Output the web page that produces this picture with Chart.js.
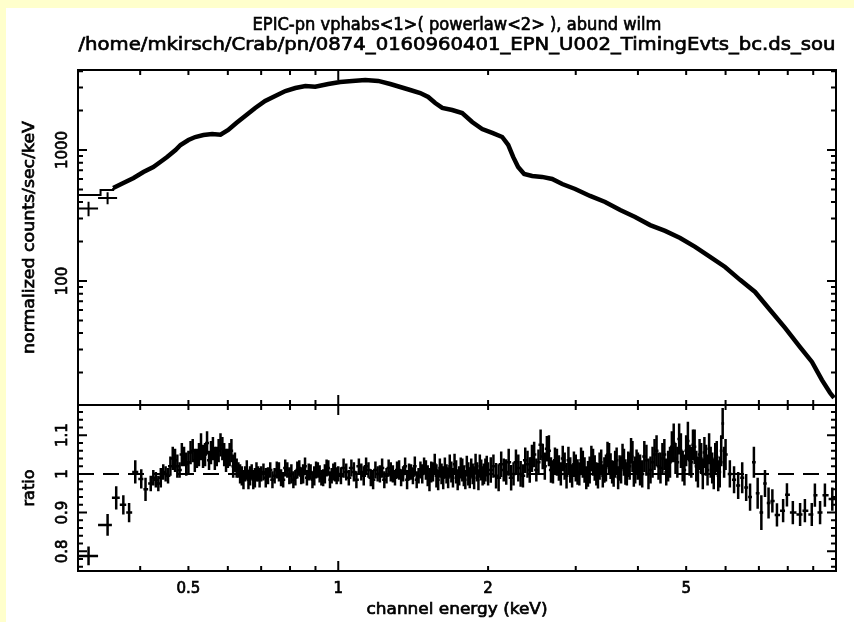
<!DOCTYPE html>
<html>
<head>
<meta charset="utf-8">
<script src="https://cdn.jsdelivr.net/npm/chart.js@4.4.0/dist/chart.umd.min.js"></script>
<style>
  body { margin: 0; background: #ffffcc; }
  #wrap { position: relative; width: 854px; height: 622px; overflow: hidden; }
  #paper { position: absolute; left: 6px; top: 8px; right: 0; bottom: 0; background: #fff; }
  canvas { position: absolute; left: 0; top: 0; }
</style>
</head>
<body>
<div id="wrap">
  <div id="paper"></div>
  <canvas id="countsChart" width="854" height="622"></canvas>
  <canvas id="ratioChart" width="854" height="622"></canvas>
</div>
<script>
const titleLines = ['EPIC-pn vphabs<1>( powerlaw<2> ), abund wilm',
                    '/home/mkirsch/Crab/pn/0874_0160960401_EPN_U002_TimingEvts_bc.ds_sou'];
const xAxisTitle = 'channel energy (keV)';
const countsAxisTitle = 'normalized counts/sec/keV';
const ratioAxisTitle = 'ratio';
const energyTickLabels = [0.5, 1, 2, 5];
const countsTickLabels = [100, 1000];
const ratioTickLabels = [0.8, 0.9, 1, 1.1];

// upper panel: folded spectrum (keV, counts/s/keV)
const specEnergy = [0.353, 0.370, 0.388, 0.406, 0.425, 0.439, 0.453, 0.471, 0.482, 0.500,
  0.516, 0.536, 0.558, 0.580, 0.601, 0.624, 0.650, 0.681, 0.713, 0.747,
  0.783, 0.820, 0.859, 0.899, 0.955, 1.009, 1.067, 1.133, 1.203, 1.272,
  1.332, 1.395, 1.461, 1.516, 1.566, 1.618, 1.694, 1.774, 1.858, 1.946,
  2.039, 2.135, 2.195, 2.246, 2.298, 2.363, 2.453, 2.568, 2.690, 2.818,
  2.992, 3.206, 3.437, 3.685, 3.948, 4.232, 4.536, 4.862, 5.212, 5.585,
  5.986, 6.416, 6.877, 7.372, 7.901, 8.468, 8.948, 9.374, 9.727, 9.91];
const specCounts = [513, 560, 611, 679, 741, 810, 885, 1000, 1092, 1192,
  1256, 1302, 1325, 1310, 1421, 1607, 1818, 2094, 2367, 2585,
  2820, 2972, 3082, 3040, 3190, 3305, 3366, 3424, 3366, 3190,
  3027, 2870, 2723, 2539, 2285, 2094, 2018, 1914, 1636, 1446,
  1349, 1256, 1092, 885, 741, 656, 634, 623, 601, 550,
  504, 446, 401, 348, 308, 267, 241, 213, 182, 153,
  128, 102, 82.4, 60.1, 43.8, 31.3, 24.1, 17.5, 14.0, 12.8];
// first channels drawn as crosses, and the model histogram under them
const lowEnergy = [0.315, 0.344];
const lowCounts = [357, 430];
const lowCountsErr = [45, 45];
const modelEnergy = [0.30, 0.333, 0.353];
const modelCounts = [453, 495, 513];

// lower panel: data / model
const ratioEnergy = [0.315, 0.344, 0.358, 0.370, 0.380, 0.391, 0.402, 0.410,
  0.42, 0.43, 0.44, 0.45, 0.46, 0.47, 0.48, 0.49, 0.50, 0.51, 0.52, 0.53, 0.54, 0.55,
  0.56, 0.57, 0.58, 0.59, 0.60, 0.61, 0.62, 0.63, 0.64, 0.65, 0.66, 0.67, 0.68, 0.69,
  0.70, 0.715, 0.73, 0.745, 0.76, 0.775, 0.79, 0.805, 0.82, 0.835, 0.85, 0.865, 0.88,
  0.895, 0.91, 0.925, 0.94, 0.955, 0.97, 0.985,
  1.0, 1.025, 1.05, 1.075, 1.1, 1.125, 1.15, 1.175, 1.2, 1.225, 1.25, 1.275, 1.3, 1.325,
  1.35, 1.375, 1.4, 1.425, 1.45, 1.475, 1.5, 1.525, 1.55, 1.575, 1.6, 1.625, 1.65, 1.675,
  1.7, 1.725, 1.75, 1.775, 1.8, 1.825, 1.85, 1.875, 1.9, 1.925, 1.95, 1.975,
  2.0, 2.05, 2.1, 2.15, 2.2, 2.25, 2.3, 2.35, 2.4, 2.45, 2.5, 2.55, 2.6, 2.65, 2.7, 2.75,
  2.8, 2.85, 2.9, 2.95, 3.0, 3.05, 3.1, 3.15, 3.2, 3.25, 3.3, 3.35, 3.4, 3.45, 3.5, 3.55,
  3.6, 3.65, 3.7, 3.75, 3.8, 3.85, 3.9, 3.95,
  4.0, 4.08, 4.16, 4.24, 4.32, 4.4, 4.48, 4.56, 4.64, 4.72, 4.8, 4.88, 4.96, 5.04, 5.12,
  5.2, 5.28, 5.36, 5.44, 5.52, 5.6, 5.68, 5.76, 5.84, 5.92,
  6.0, 6.12, 6.24, 6.36, 6.48, 6.6, 6.72, 6.84, 6.96, 7.08, 7.2, 7.32,
  7.45, 7.61, 7.83, 7.97, 8.19, 8.47, 8.66, 8.94, 9.07, 9.29, 9.50, 9.83];
const ratioValue = [0.788, 0.868, 0.938, 0.92, 0.90, 1.005, 0.987, 0.96,
  0.975, 0.985, 0.99, 1.0, 1.02, 1.035, 1.01, 1.045, 1.03, 1.06, 1.04, 1.07, 1.05, 1.035,
  1.065, 1.045, 1.075, 1.05, 1.04, 1.06, 1.03, 1.01, 0.995, 1.0, 0.985, 1.005, 0.99, 1.0,
  1.0, 0.99, 1.01, 0.995, 1.005, 0.985, 1.01, 1.0, 0.99, 1.015, 1.0, 0.99, 1.005,
  0.995, 1.01, 0.99, 1.0, 1.015, 0.995, 1.005,
  1.0, 1.015, 0.99, 1.005, 1.02, 0.995, 1.01, 0.985, 1.0, 1.015, 0.995, 1.005, 0.99, 1.01,
  1.0, 0.985, 1.005, 1.02, 0.995, 1.0, 1.01, 0.985, 1.005, 0.995, 1.015, 0.99, 1.0, 1.02,
  0.99, 1.005, 0.995, 1.01, 0.985, 1.0, 1.015, 0.99, 1.005, 1.02, 0.995, 1.01,
  1.0, 1.02, 0.99, 1.01, 1.03, 1.0, 1.015, 0.995, 1.025, 1.04, 1.01, 1.075, 1.02, 1.06, 1.005, 1.03,
  1.0, 1.02, 1.035, 0.995, 1.015, 1.0, 1.025, 0.99, 1.01, 1.03, 1.0, 1.02, 0.995, 1.015, 1.04, 1.005,
  1.025, 0.99, 1.01, 1.03, 1.0, 1.02, 1.045, 1.01,
  1.02, 1.0, 1.035, 1.01, 1.05, 1.02, 1.04, 1.005, 1.03, 1.08, 1.03, 1.06, 1.01, 1.085, 1.03,
  1.07, 1.005, 1.04, 1.055, 1.01, 1.03, 1.0, 1.045, 1.005, 1.13,
  1.05, 1.0, 0.985, 0.97, 0.99, 0.965, 0.94, 1.03, 0.95, 0.90, 0.975, 0.925,
  0.93, 0.894, 0.905, 0.946, 0.90, 0.895, 0.905, 0.895, 0.945, 0.90, 0.945, 0.935];
const ratioErr = [0.024, 0.028, 0.03, 0.025, 0.025, 0.03, 0.025, 0.03,
  0.02, 0.02, 0.025, 0.02, 0.025, 0.03, 0.02, 0.025, 0.03, 0.03, 0.025, 0.035, 0.03, 0.025,
  0.03, 0.025, 0.03, 0.03, 0.025, 0.03, 0.025, 0.02, 0.025, 0.02, 0.025, 0.02, 0.025, 0.02,
  0.02, 0.025, 0.02, 0.02, 0.025, 0.02, 0.02, 0.025, 0.02, 0.02, 0.025, 0.02, 0.02,
  0.025, 0.02, 0.02, 0.025, 0.02, 0.02, 0.025,
  0.02, 0.025, 0.02, 0.025, 0.02, 0.025, 0.02, 0.025, 0.02, 0.025, 0.02, 0.025, 0.02, 0.025,
  0.02, 0.025, 0.02, 0.025, 0.02, 0.025, 0.025, 0.03, 0.025, 0.03, 0.025, 0.03, 0.025, 0.03,
  0.025, 0.03, 0.025, 0.03, 0.025, 0.03, 0.025, 0.03, 0.025, 0.03, 0.025, 0.03,
  0.03, 0.03, 0.035, 0.03, 0.035, 0.03, 0.035, 0.03, 0.035, 0.035, 0.03, 0.04, 0.035, 0.04, 0.03, 0.035,
  0.03, 0.035, 0.035, 0.03, 0.035, 0.03, 0.035, 0.03, 0.035, 0.035, 0.03, 0.035, 0.03, 0.035, 0.04, 0.03,
  0.035, 0.03, 0.035, 0.035, 0.03, 0.035, 0.04, 0.035,
  0.035, 0.035, 0.04, 0.035, 0.04, 0.035, 0.04, 0.035, 0.04, 0.05, 0.04, 0.045, 0.04, 0.05, 0.04,
  0.045, 0.04, 0.04, 0.04, 0.04, 0.04, 0.04, 0.04, 0.04, 0.04,
  0.04, 0.035, 0.035, 0.035, 0.04, 0.035, 0.035, 0.04, 0.04, 0.045, 0.035, 0.04,
  0.03, 0.03, 0.03, 0.03, 0.03, 0.03, 0.03, 0.03, 0.03, 0.03, 0.03, 0.03];
// channels lying between the ones above (the band is very dense)
const ratioEnergyFine = [0.425, 0.435, 0.445, 0.455, 0.465, 0.475, 0.485, 0.495, 0.505, 0.515,
  0.525, 0.535, 0.545, 0.555, 0.565, 0.575, 0.585, 0.595, 0.605, 0.615,
  0.625, 0.635, 0.645, 0.655, 0.665, 0.675, 0.685, 0.695,
  0.7075, 0.7225, 0.7375, 0.7525, 0.7675, 0.7825, 0.7975, 0.8125, 0.8275, 0.8425,
  0.8575, 0.8725, 0.8875, 0.9025, 0.9175, 0.9325, 0.9475, 0.9625, 0.9775, 0.9925,
  1.0125, 1.0375, 1.0625, 1.0875, 1.1125, 1.1375, 1.1625, 1.1875, 1.2125, 1.2375,
  1.2625, 1.2875, 1.3125, 1.3375, 1.3625, 1.3875, 1.4125, 1.4375, 1.4625, 1.4875,
  1.5125, 1.5375, 1.5625, 1.5875, 1.6125, 1.6375, 1.6625, 1.6875, 1.7125, 1.7375,
  1.7625, 1.7875, 1.8125, 1.8375, 1.8625, 1.8875, 1.9125, 1.9375, 1.9625, 1.9875,
  2.025, 2.075, 2.125, 2.175, 2.225, 2.275, 2.325, 2.375, 2.425, 2.475,
  2.525, 2.575, 2.625, 2.675, 2.725, 2.775, 2.825, 2.875, 2.925, 2.975,
  3.025, 3.075, 3.125, 3.175, 3.225, 3.275, 3.325, 3.375, 3.425, 3.475,
  3.525, 3.575, 3.625, 3.675, 3.725, 3.775, 3.825, 3.875, 3.925, 3.975,
  4.04, 4.12, 4.2, 4.28, 4.36, 4.44, 4.52, 4.6, 4.68, 4.76, 4.84, 4.92, 5.0,
  5.08, 5.16, 5.24, 5.32, 5.4, 5.48, 5.56, 5.64, 5.72, 5.8, 5.88, 5.96];
const ratioValueFine = [0.99, 0.975, 1.005, 0.995, 1.04, 1.02, 1.05, 1.025, 1.055, 1.035,
  1.05, 1.045, 1.08, 1.055, 1.04, 1.06, 1.065, 1.035, 1.05, 1.02,
  1.015, 1.0, 0.985, 1.01, 0.995, 0.985, 1.005, 0.99,
  1.005, 0.995, 0.985, 1.01, 0.99, 1.015, 0.995, 0.985, 1.01, 0.995,
  1.02, 1.005, 0.985, 1.01, 1.0, 0.99, 1.015, 0.985, 1.005, 0.995,
  0.995, 1.005, 1.015, 0.985, 1.005, 1.02, 0.99, 1.01, 1.0, 0.985,
  1.015, 1.0, 1.01, 0.99, 1.02, 1.005, 0.995, 0.985, 1.01, 1.02,
  0.995, 1.005, 1.025, 0.985, 1.0, 1.015, 0.99, 1.005, 1.025, 0.985,
  1.015, 0.995, 1.02, 0.99, 1.0, 1.025, 0.985, 1.01, 1.0, 1.02,
  1.01, 0.995, 1.025, 1.005, 0.99, 1.03, 1.0, 1.035, 1.01, 1.05,
  1.03, 1.045, 1.065, 1.01, 1.035, 1.015, 1.04, 0.995, 1.01, 1.025,
  1.005, 1.035, 1.01, 1.0, 1.04, 1.015, 0.995, 1.03, 1.01, 1.05,
  1.02, 1.0, 1.035, 1.015, 1.045, 1.005, 1.025, 1.06, 1.0, 1.03,
  1.01, 1.045, 1.0, 1.03, 1.06, 1.015, 1.05, 1.02, 1.07, 1.04, 1.09, 1.02, 1.06,
  1.035, 1.075, 1.02, 1.05, 1.0, 1.035, 1.065, 1.015, 1.04, 0.995, 1.06, 1.03];
const ratioErrFine = [0.02, 0.02, 0.02, 0.02, 0.03, 0.03, 0.03, 0.03, 0.03, 0.03,
  0.03, 0.03, 0.03, 0.03, 0.03, 0.03, 0.03, 0.03, 0.03, 0.03,
  0.025, 0.025, 0.025, 0.025, 0.025, 0.025, 0.025, 0.025,
  0.022, 0.022, 0.022, 0.022, 0.022, 0.022, 0.022, 0.022, 0.022, 0.022,
  0.022, 0.022, 0.022, 0.022, 0.022, 0.022, 0.022, 0.022, 0.022, 0.022,
  0.022, 0.022, 0.022, 0.022, 0.022, 0.022, 0.022, 0.022, 0.022, 0.022,
  0.022, 0.022, 0.022, 0.022, 0.022, 0.022, 0.022, 0.022, 0.022, 0.022,
  0.027, 0.027, 0.027, 0.027, 0.027, 0.027, 0.027, 0.027, 0.027, 0.027,
  0.027, 0.027, 0.027, 0.027, 0.027, 0.027, 0.027, 0.027, 0.027, 0.027,
  0.033, 0.033, 0.033, 0.033, 0.033, 0.033, 0.033, 0.033, 0.033, 0.033,
  0.033, 0.033, 0.033, 0.033, 0.033, 0.033, 0.033, 0.033, 0.033, 0.033,
  0.033, 0.033, 0.033, 0.033, 0.033, 0.033, 0.033, 0.033, 0.033, 0.033,
  0.033, 0.033, 0.033, 0.033, 0.033, 0.033, 0.033, 0.033, 0.033, 0.033,
  0.04, 0.04, 0.04, 0.04, 0.04, 0.04, 0.04, 0.04, 0.04, 0.04, 0.04, 0.04, 0.04,
  0.04, 0.04, 0.04, 0.04, 0.04, 0.04, 0.04, 0.04, 0.04, 0.04, 0.04, 0.04];

const FONT = '"DejaVu Sans", sans-serif';
const pts = (xs, ys) => xs.map((x, i) => ({ x, y: ys[i] }));

// text, optionally stretched to a given width and/or turned to read upward
function drawText(ctx, text, x, y, size, width, upright) {
  ctx.save();
  ctx.font = size + 'px ' + FONT;
  ctx.textAlign = 'center';
  ctx.textBaseline = 'alphabetic';
  ctx.fillStyle = '#000';
  ctx.strokeStyle = '#000';
  ctx.lineWidth = 0.7;
  ctx.translate(x, y);
  if (upright) ctx.rotate(-Math.PI / 2);
  if (width) ctx.scale(width / ctx.measureText(text).width, 1);
  ctx.fillText(text, 0, 0);
  ctx.strokeText(text, 0, 0);
  ctx.restore();
}

function logTicks(min, max) {
  const out = [];
  for (let d = Math.floor(Math.log10(min)); d <= Math.ceil(Math.log10(max)); d++) {
    for (let m = 1; m < 10; m++) {
      const v = m * Math.pow(10, d);
      if (v > min * 1.001 && v < max * 0.999) out.push([v, m === 1]);
    }
  }
  return out;
}

function linTicks(min, max) {
  const out = [];
  for (let k = Math.ceil(min / 0.02); k * 0.02 < max; k++) out.push([k * 0.02, k % 5 === 0]);
  return out;
}

// error crosses for datasets carrying an errY array
const crosses = {
  id: 'crosses',
  afterDatasetsDraw(chart) {
    const { ctx, chartArea: a, scales: { x, y } } = chart;
    chart.data.datasets.forEach(ds => {
      if (!ds.errY) return;
      const p = ds.data;
      ctx.save();
      ctx.beginPath();
      ctx.rect(a.left, a.top, a.right - a.left, a.bottom - a.top);
      ctx.clip();
      ctx.strokeStyle = '#000';
      ctx.lineWidth = ds.barWidth || 2;
      ctx.beginPath();
      p.forEach((pt, i) => {
        let lo = i > 0 ? Math.sqrt(p[i - 1].x * pt.x) : null;
        let hi = i < p.length - 1 ? Math.sqrt(p[i + 1].x * pt.x) : null;
        if (lo === null) lo = pt.x * pt.x / hi;
        if (hi === null) hi = pt.x * pt.x / lo;
        const px = x.getPixelForValue(pt.x), py = y.getPixelForValue(pt.y);
        ctx.moveTo(x.getPixelForValue(lo), py);
        ctx.lineTo(x.getPixelForValue(hi), py);
        ctx.moveTo(px, y.getPixelForValue(pt.y - ds.errY[i]));
        ctx.lineTo(px, y.getPixelForValue(pt.y + ds.errY[i]));
      });
      ctx.stroke();
      ctx.restore();
    });
  }
};

// pgplot style box: inward ticks on all sides plus the labels
const frame = {
  id: 'frame',
  afterDraw(chart, args, opts) {
    const { ctx, chartArea: a, scales: { x, y } } = chart;
    ctx.save();
    ctx.strokeStyle = '#000';
    ctx.lineWidth = 2;
    ctx.strokeRect(a.left, a.top, a.right - a.left, a.bottom - a.top);
    ctx.beginPath();
    logTicks(x.min, x.max).forEach(([v, major]) => {
      const px = x.getPixelForValue(v), len = major ? 10 : 5;
      ctx.moveTo(px, a.top); ctx.lineTo(px, a.top + len);
      ctx.moveTo(px, a.bottom); ctx.lineTo(px, a.bottom - len);
    });
    const yt = y.type === 'logarithmic' ? logTicks(y.min, y.max) : linTicks(y.min, y.max);
    yt.forEach(([v, major]) => {
      const py = y.getPixelForValue(v), len = major ? 9 : 5;
      ctx.moveTo(a.left, py); ctx.lineTo(a.left + len, py);
      ctx.moveTo(a.right, py); ctx.lineTo(a.right - len, py);
    });
    ctx.stroke();
    ctx.restore();

    opts.yLabels.forEach(v => drawText(ctx, String(v), 67, y.getPixelForValue(v), 15, 0, true));
    drawText(ctx, opts.yTitle, 34, (a.top + a.bottom) / 2, 16.5, opts.yTitleWidth, true);
    const cx = (a.left + a.right) / 2;
    if (opts.titles) {
      drawText(ctx, opts.titles[0], cx, 30, 18, 409);
      drawText(ctx, opts.titles[1], cx, 50, 18, 757);
    }
    if (opts.xLabels) {
      opts.xLabels.forEach(v => drawText(ctx, String(v), x.getPixelForValue(v), 593, 15));
      drawText(ctx, opts.xTitle, cx, 614, 16.5, 181);
    }
  }
};

const common = (padding, plugin) => ({
  responsive: false,
  animation: false,
  devicePixelRatio: 1,
  events: [],
  layout: { padding },
  plugins: { legend: { display: false }, tooltip: { enabled: false }, frame: plugin }
});

new Chart(document.getElementById('countsChart'), {
  type: 'line',
  data: {
    datasets: [
      { data: pts(specEnergy, specCounts), borderColor: '#000', borderWidth: 4.5, pointRadius: 0, tension: 0 },
      { data: pts(modelEnergy, modelCounts), borderColor: '#000', borderWidth: 2, pointRadius: 0, stepped: true },
      { data: pts(lowEnergy, lowCounts), showLine: false, pointRadius: 0, errY: lowCountsErr }
    ]
  },
  options: {
    ...common({ left: 78, right: 18, top: 70, bottom: 217 },
      { yLabels: countsTickLabels, yTitle: countsAxisTitle, yTitleWidth: 233, titles: titleLines }),
    scales: {
      x: { type: 'logarithmic', min: 0.3, max: 10, display: false },
      y: { type: 'logarithmic', min: 11.3, max: 4080, display: false }
    }
  },
  plugins: [crosses, frame]
});

new Chart(document.getElementById('ratioChart'), {
  type: 'line',
  data: {
    datasets: [
      { data: [{ x: 0.3, y: 1 }, { x: 10, y: 1 }], borderColor: '#000', borderWidth: 2, borderDash: [16, 9], pointRadius: 0 },
      { data: pts(ratioEnergy, ratioValue), showLine: false, pointRadius: 0, errY: ratioErr, barWidth: 2.5 },
      { data: pts(ratioEnergyFine, ratioValueFine), showLine: false, pointRadius: 0, errY: ratioErrFine, barWidth: 2.5 }
    ]
  },
  options: {
    ...common({ left: 78, right: 18, top: 405, bottom: 51 },
      { yLabels: ratioTickLabels, yTitle: ratioAxisTitle, yTitleWidth: 37,
        xLabels: energyTickLabels, xTitle: xAxisTitle }),
    scales: {
      x: { type: 'logarithmic', min: 0.3, max: 10, display: false },
      y: { type: 'linear', min: 0.749, max: 1.178, display: false }
    }
  },
  plugins: [crosses, frame]
});
</script>
</body>
</html>
